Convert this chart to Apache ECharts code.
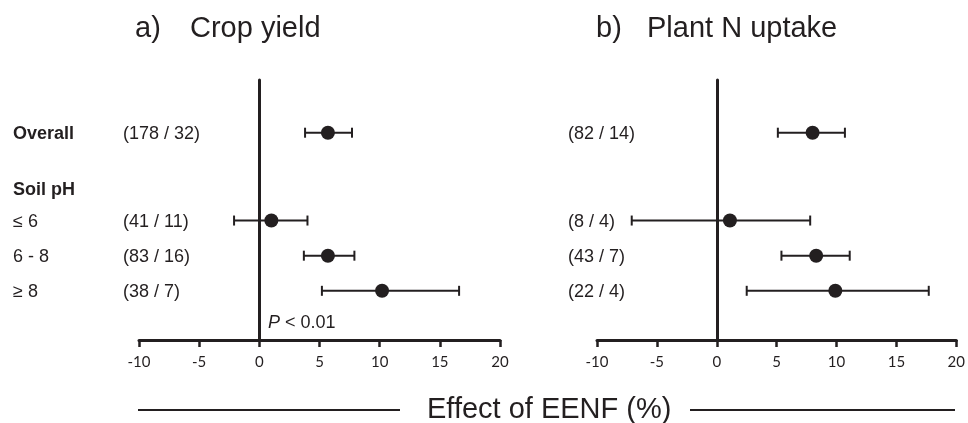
<!DOCTYPE html>
<html>
<head>
<meta charset="utf-8">
<script src="https://cdn.jsdelivr.net/npm/echarts@6/dist/echarts.min.js"></script>
<style>
html,body{margin:0;padding:0;background:#fff;}
#main{width:968px;height:423px;}
</style>
</head>
<body>
<div id="main"></div>
<script>
// ---- data ----
const rowLabels = ['Overall', '\u2264 6', '6 - 8', '\u2265 8'];
const rowPos = [0, 2.5, 3.5, 4.5];          // row slots on the vertical axis
const headerLabel = 'Soil pH';
const headerPos = 1.6;
const boldRows = ['Overall', 'Soil pH'];

const cropCounts = ['(178 / 32)', '(41 / 11)', '(83 / 16)', '(38 / 7)'];
const cropMean = [5.7, 1.0, 5.7, 10.2];
const cropLo   = [3.8, -2.1, 3.7, 5.2];
const cropHi   = [7.7, 4.0, 7.9, 16.6];

const nCounts = ['(82 / 14)', '(8 / 4)', '(43 / 7)', '(22 / 4)'];
const nMean = [8.0, 1.1, 8.3, 9.9];
const nLo   = [5.1, -7.1, 5.4, 2.5];
const nHi   = [10.7, 7.8, 11.1, 17.7];

const xTicks = [-10, -5, 0, 5, 10, 15, 20];
const panelTitles = [['a)', 'Crop yield'], ['b)', 'Plant N uptake']];
const xAxisTitle = 'Effect of EENF (%)';

// ---- style ----
const INK = '#231f20';
const FONT = '"Liberation Sans", Arial, sans-serif';

function barData(mean, lo, hi) {
  return mean.map((m, i) => [m, lo[i], hi[i], rowPos[i]]);
}

function renderBar(params, api) {
  const y = api.value(3);
  const pm = api.coord([api.value(0), y]);
  const pl = api.coord([api.value(1), y]);
  const ph = api.coord([api.value(2), y]);
  const cap = 5;
  const ls = { stroke: INK, lineWidth: 2 };
  return {
    type: 'group',
    children: [
      { type: 'line', shape: { x1: pl[0], y1: pl[1], x2: ph[0], y2: ph[1] }, style: ls },
      { type: 'line', shape: { x1: pl[0], y1: pl[1] - cap, x2: pl[0], y2: pl[1] + cap }, style: ls },
      { type: 'line', shape: { x1: ph[0], y1: ph[1] - cap, x2: ph[0], y2: ph[1] + cap }, style: ls },
      { type: 'circle', shape: { cx: pm[0], cy: pm[1], r: 7 }, style: { fill: INK } }
    ]
  };
}

function labelData(labels, withHeader) {
  const d = labels.map((t, i) => [rowPos[i], t]);
  if (withHeader) d.push([headerPos, headerLabel]);
  return d;
}

function textSeries(gridIdx, labels, withHeader, xPix) {
  const data = labelData(labels, withHeader);
  return {
    type: 'custom',
    xAxisIndex: gridIdx,
    yAxisIndex: gridIdx,
    silent: true,
    clip: false,
    data: data.map(d => [0, d[0]]),
    encode: { x: 0, y: 1 },
    renderItem: function (params, api) {
      const y = api.coord([0, api.value(1)])[1];
      const t = data[params.dataIndex][1];
      const bold = boldRows.indexOf(t) >= 0;
      return {
        type: 'text',
        style: {
          x: xPix, y: y + 1,
          text: t,
          fill: INK,
          font: (bold ? 'bold ' : '') + '18px ' + FONT,
          textAlign: 'left',
          textVerticalAlign: 'middle',
          verticalAlign: 'middle'
        }
      };
    }
  };
}

function xAxisCfg(gridIdx) {
  return {
    gridIndex: gridIdx,
    type: 'value',
    min: xTicks[0],
    max: xTicks[xTicks.length - 1],
    interval: 5,
    axisLine: { show: true, onZero: false, lineStyle: { color: INK, width: 3 } },
    axisTick: { show: true, inside: false, length: 7, lineStyle: { color: INK, width: 2.5 } },
    axisLabel: { color: INK, fontFamily: 'Lato, "Open Sans", sans-serif', fontSize: 15, margin: 15 },
    splitLine: { show: false }
  };
}

function yAxisCfg(gridIdx) {
  return {
    gridIndex: gridIdx,
    type: 'value',
    inverse: true,
    min: -1.5,
    max: 5.9,
    axisLine: { show: true, onZero: true, lineStyle: { color: INK, width: 3 } },
    axisTick: { show: false },
    axisLabel: { show: false },
    splitLine: { show: false }
  };
}

const chart = echarts.init(document.getElementById('main'), null, { renderer: 'canvas' });

const titleFont = '29px ' + FONT;
chart.setOption({
  animation: false,
  backgroundColor: '#ffffff',
  grid: [
    { left: 139, top: 80, width: 361, height: 260 },
    { left: 597, top: 80, width: 360, height: 260 }
  ],
  xAxis: [xAxisCfg(0), xAxisCfg(1)],
  yAxis: [yAxisCfg(0), yAxisCfg(1)],
  series: [
    {
      type: 'custom', xAxisIndex: 0, yAxisIndex: 0, silent: true,
      data: barData(cropMean, cropLo, cropHi),
      encode: { x: [0, 1, 2], y: 3 },
      renderItem: renderBar
    },
    {
      type: 'custom', xAxisIndex: 1, yAxisIndex: 1, silent: true,
      data: barData(nMean, nLo, nHi),
      encode: { x: [0, 1, 2], y: 3 },
      renderItem: renderBar
    },
    textSeries(0, rowLabels, true, 13),
    textSeries(0, cropCounts, false, 123),
    textSeries(1, nCounts, false, 568)
  ],
  graphic: [
    { type: 'text', left: 135, top: 14, style: { text: panelTitles[0][0], font: titleFont, fill: INK } },
    { type: 'text', left: 190, top: 14, style: { text: panelTitles[0][1], font: titleFont, fill: INK } },
    { type: 'text', left: 596, top: 14, style: { text: panelTitles[1][0], font: titleFont, fill: INK } },
    { type: 'text', left: 647, top: 14, style: { text: panelTitles[1][1], font: titleFont, fill: INK } },
    {
      type: 'text', left: 268, top: 314,
      style: {
        text: '{i|P} < 0.01',
        font: '18px ' + FONT,
        fill: INK,
        rich: { i: { fontStyle: 'italic', fontSize: 18, fontFamily: FONT, color: INK } }
      }
    },
    { type: 'text', left: 427, top: 395, style: { text: xAxisTitle, font: titleFont, fill: INK } },
    { type: 'line', shape: { x1: 138, y1: 410, x2: 400, y2: 410 }, style: { stroke: INK, lineWidth: 2 } },
    { type: 'line', shape: { x1: 690, y1: 410, x2: 955, y2: 410 }, style: { stroke: INK, lineWidth: 2 } }
  ]
});
</script>
</body>
</html>
